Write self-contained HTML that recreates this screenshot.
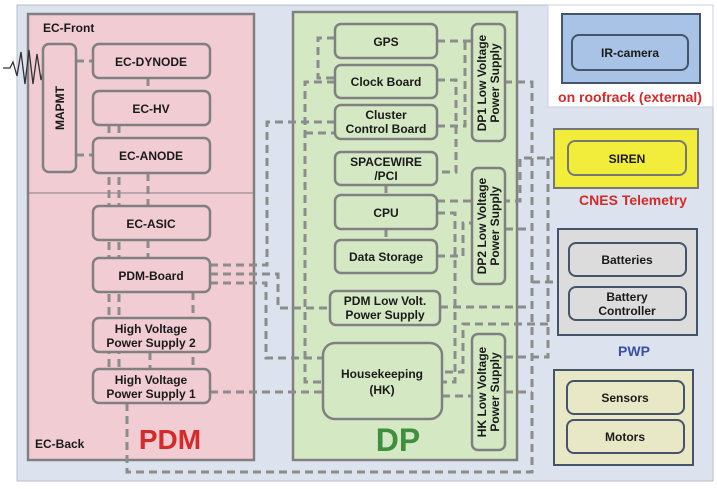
<!DOCTYPE html>
<html><head><meta charset="utf-8"><style>
body{margin:0;background:#fff}
svg{display:block;font-family:"Liberation Sans",sans-serif;font-weight:bold}
</style></head><body>
<svg width="717" height="489" viewBox="0 0 717 489" xmlns="http://www.w3.org/2000/svg">
<rect x="17" y="5" width="696" height="476" fill="#dde3ee" stroke="#b8bfcc" stroke-width="1"/>
<rect x="548" y="5" width="165" height="102" fill="#fff" stroke="#ccd" stroke-width="1"/>
<rect x="28" y="14" width="226" height="446" fill="#f2ccd3" stroke="#808080" stroke-width="2.5"/>
<line x1="28" y1="193" x2="254" y2="193" stroke="#808080" stroke-width="1"/>
<rect x="293" y="12" width="224" height="448" fill="#d5e8c4" stroke="#808080" stroke-width="2.5"/>
<g fill="none" stroke="#8c8c8c" stroke-width="3" stroke-dasharray="8,5">
<path d="M76 61H93M76 155H93M148 78V91M148 173V206M148 240V258"/>
<path d="M109 125V369M119 125V369M193 292V369M150 352V369"/>
<path d="M127 403V472H532V82H505"/>
<path d="M210 392H323"/>
<path d="M210 265H267V122H335"/>
<path d="M210 274H278V308H330"/>
<path d="M210 283H266V358H323"/>
<path d="M335 82H305V382H323M305 133H335"/>
<path d="M335 38H318V78H335"/>
<path d="M437 41H472M437 126H465V41"/>
<path d="M437 80H456V172H437"/>
<path d="M437 201H520V158H554"/>
<path d="M548 158V357H505M532 282H558"/>
<path d="M437 213H455V382H442"/>
<path d="M437 256H463V223H472"/>
<path d="M505 229H532M440 307H532"/>
<path d="M548 324H463V372H442"/>
<path d="M442 396H472M505 392H532"/>
<path d="M386 185V195M386 229V240"/>
</g>
<path d="M3 68 L10 68 L13 62 L17 76 L21 52 L25 84 L29 50 L33 84 L37 54 L41 80 L45 62 L49 72 L53 66 L57 69 L62 68" fill="none" stroke="#333" stroke-width="1.3"/>
<path d="M62 65 L68 68 L62 71Z" fill="#333"/>
<g fill="#f2ccd3" stroke="#808080" stroke-width="2.5">
<rect x="43" y="44" width="33" height="128" rx="6"/>
<rect x="93" y="44" width="117" height="34" rx="6"/>
<rect x="93" y="91" width="117" height="34" rx="6"/>
<rect x="93" y="138" width="117" height="35" rx="6"/>
<rect x="93" y="206" width="117" height="34" rx="6"/>
<rect x="93" y="258" width="117" height="34" rx="6"/>
<rect x="93" y="318" width="117" height="34" rx="6"/>
<rect x="93" y="369" width="117" height="34" rx="6"/>
</g>
<g fill="#d5e8c4" stroke="#808080" stroke-width="2.5">
<rect x="335" y="24" width="102" height="34" rx="6"/>
<rect x="335" y="65" width="102" height="33" rx="6"/>
<rect x="335" y="105" width="102" height="34" rx="6"/>
<rect x="335" y="152" width="102" height="33" rx="6"/>
<rect x="335" y="195" width="102" height="34" rx="6"/>
<rect x="335" y="240" width="102" height="33" rx="6"/>
<rect x="330" y="291" width="110" height="34" rx="6"/>
<rect x="323" y="343" width="119" height="76" rx="12"/>
<rect x="472" y="24" width="33" height="117" rx="6"/>
<rect x="472" y="168" width="33" height="116" rx="6"/>
<rect x="472" y="334" width="33" height="116" rx="6"/>
</g>
<rect x="562" y="14" width="138" height="69" fill="#a9c3e6" stroke="#44546a" stroke-width="2"/>
<rect x="572" y="35" width="116" height="35" rx="7" fill="#a9c3e6" stroke="#44546a" stroke-width="2"/>
<rect x="554" y="129" width="144" height="59" fill="#f2ec3a" stroke="#777" stroke-width="2"/>
<rect x="568" y="141" width="118" height="34" rx="7" fill="#f2ec3a" stroke="#777" stroke-width="2"/>
<rect x="558" y="229" width="139" height="106" fill="#dcdcdc" stroke="#44546a" stroke-width="2"/>
<rect x="569" y="243" width="117" height="33" rx="7" fill="#dcdcdc" stroke="#44546a" stroke-width="2"/>
<rect x="569" y="287" width="117" height="33" rx="7" fill="#dcdcdc" stroke="#44546a" stroke-width="2"/>
<rect x="554" y="370" width="139" height="95" fill="#e8e8c6" stroke="#44546a" stroke-width="2"/>
<rect x="567" y="381" width="117" height="33" rx="7" fill="#e8e8c6" stroke="#44546a" stroke-width="2"/>
<rect x="567" y="420" width="117" height="33" rx="7" fill="#e8e8c6" stroke="#44546a" stroke-width="2"/>
<g font-size="12" fill="#1a1a1a" text-anchor="middle">
<text x="43" y="32" text-anchor="start">EC-Front</text>
<text x="35" y="448" text-anchor="start">EC-Back</text>
<text x="151" y="66">EC-DYNODE</text>
<text x="151" y="113">EC-HV</text>
<text x="151" y="160">EC-ANODE</text>
<text x="151" y="228">EC-ASIC</text>
<text x="151" y="280">PDM-Board</text>
<text x="151" y="333">High Voltage</text>
<text x="151" y="347">Power Supply 2</text>
<text x="151" y="384">High Voltage</text>
<text x="151" y="398">Power Supply 1</text>
<text transform="translate(64 108) rotate(-90)">MAPMT</text>
<text x="386" y="46">GPS</text>
<text x="386" y="86">Clock Board</text>
<text x="386" y="119">Cluster</text>
<text x="386" y="133">Control Board</text>
<text x="386" y="166">SPACEWIRE</text>
<text x="386" y="180">/PCI</text>
<text x="386" y="217">CPU</text>
<text x="386" y="261">Data Storage</text>
<text x="385" y="305">PDM Low Volt.</text>
<text x="385" y="319">Power Supply</text>
<text x="382" y="378">Housekeeping</text>
<text x="382" y="394">(HK)</text>
<text transform="translate(486 83) rotate(-90)">DP1 Low Voltage</text>
<text transform="translate(499 83) rotate(-90)">Power Supply</text>
<text transform="translate(486 226) rotate(-90)">DP2 Low Voltage</text>
<text transform="translate(499 226) rotate(-90)">Power Supply</text>
<text transform="translate(486 392) rotate(-90)">HK Low Voltage</text>
<text transform="translate(499 392) rotate(-90)">Power Supply</text>
<text x="630" y="57">IR-camera</text>
<text x="627" y="163">SIREN</text>
<text x="627" y="264">Batteries</text>
<text x="627" y="301">Battery</text>
<text x="627" y="315">Controller</text>
<text x="625" y="402">Sensors</text>
<text x="625" y="441">Motors</text>
</g>
<g text-anchor="middle">
<text x="630" y="102" font-size="14" fill="#d42a2a">on roofrack (external)</text>
<text x="633" y="205" font-size="14" fill="#d42a2a">CNES Telemetry</text>
<text x="634" y="356" font-size="14" fill="#3b4ea8">PWP</text>
<text x="170" y="449" font-size="28" fill="#d42a2a">PDM</text>
<text x="398" y="451" font-size="32" fill="#3f8f3f">DP</text>
</g>
</svg>
</body></html>
